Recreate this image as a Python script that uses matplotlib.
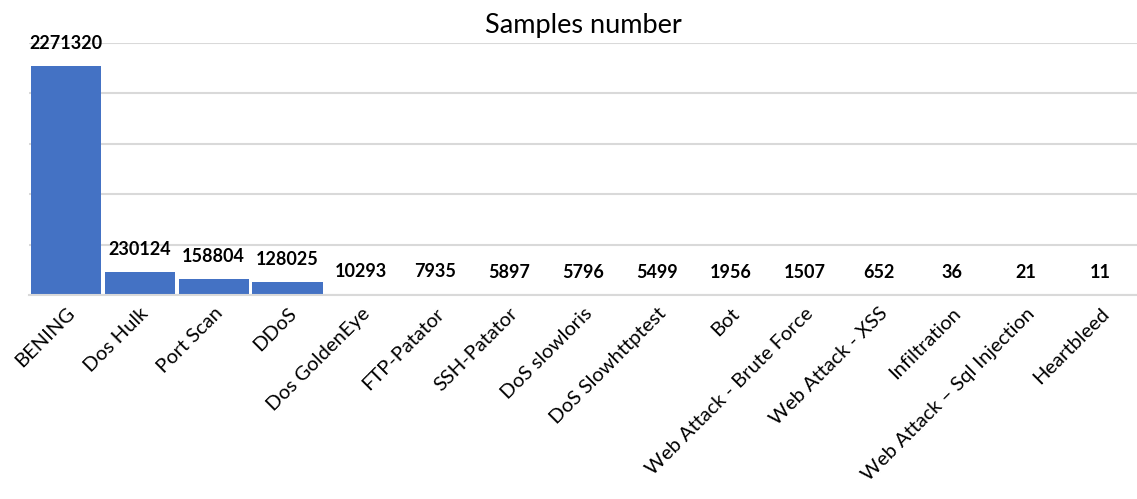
import matplotlib.pyplot as plt

attack_types = ['BENING', 'Dos Hulk', 'Port Scan', 'DDoS', 'Dos GoldenEye',
                'FTP-Patator', 'SSH-Patator', 'DoS slowloris', 'DoS Slowhttptest',
                'Bot', 'Web Attack - Brute Force', 'Web Attack - XSS',
                'Infiltration', 'Web Attack \u2013 Sql Injection', 'Heartbleed']
samples = [2271320, 230124, 158804, 128025, 10293, 7935, 5897, 5796, 5499,
           1956, 1507, 652, 36, 21, 11]

plt.rcParams['font.family'] = ['Lato', 'DejaVu Sans']

fig = plt.figure(figsize=(11.37, 4.99), dpi=100)
ax = fig.add_axes([0.0255, 0.409, 0.9745, 0.505])

x = range(len(samples))
ax.bar(x, samples, width=0.95, color='#4472C4', zorder=3)

for i, v in zip(x, samples):
    ax.annotate(str(v), (i, v), xytext=(0, 16), textcoords='offset points',
                ha='center', va='center', fontsize=13, fontweight='bold')

ax.set_xlim(-0.5, len(samples) - 0.5)
ax.set_ylim(0, 2500000)
ax.set_yticks(range(0, 2500001, 500000))
ax.yaxis.grid(True, color='#d9d9d9', linewidth=1.5, zorder=0)
ax.tick_params(axis='y', left=False, labelleft=False)
ax.tick_params(axis='x', length=0, pad=7)
ax.set_xticks(list(x))
ax.set_xticklabels(attack_types, rotation=45, ha='right', rotation_mode='anchor',
                   fontsize=14.5)

for side in ['top', 'right', 'left']:
    ax.spines[side].set_visible(False)
ax.spines['bottom'].set_color('#d9d9d9')
ax.spines['bottom'].set_linewidth(1.5)
ax.spines['bottom'].set_zorder(4)

ax.set_title('Samples number', fontsize=19.5, pad=7)

fig.savefig('out.png', dpi=100)
